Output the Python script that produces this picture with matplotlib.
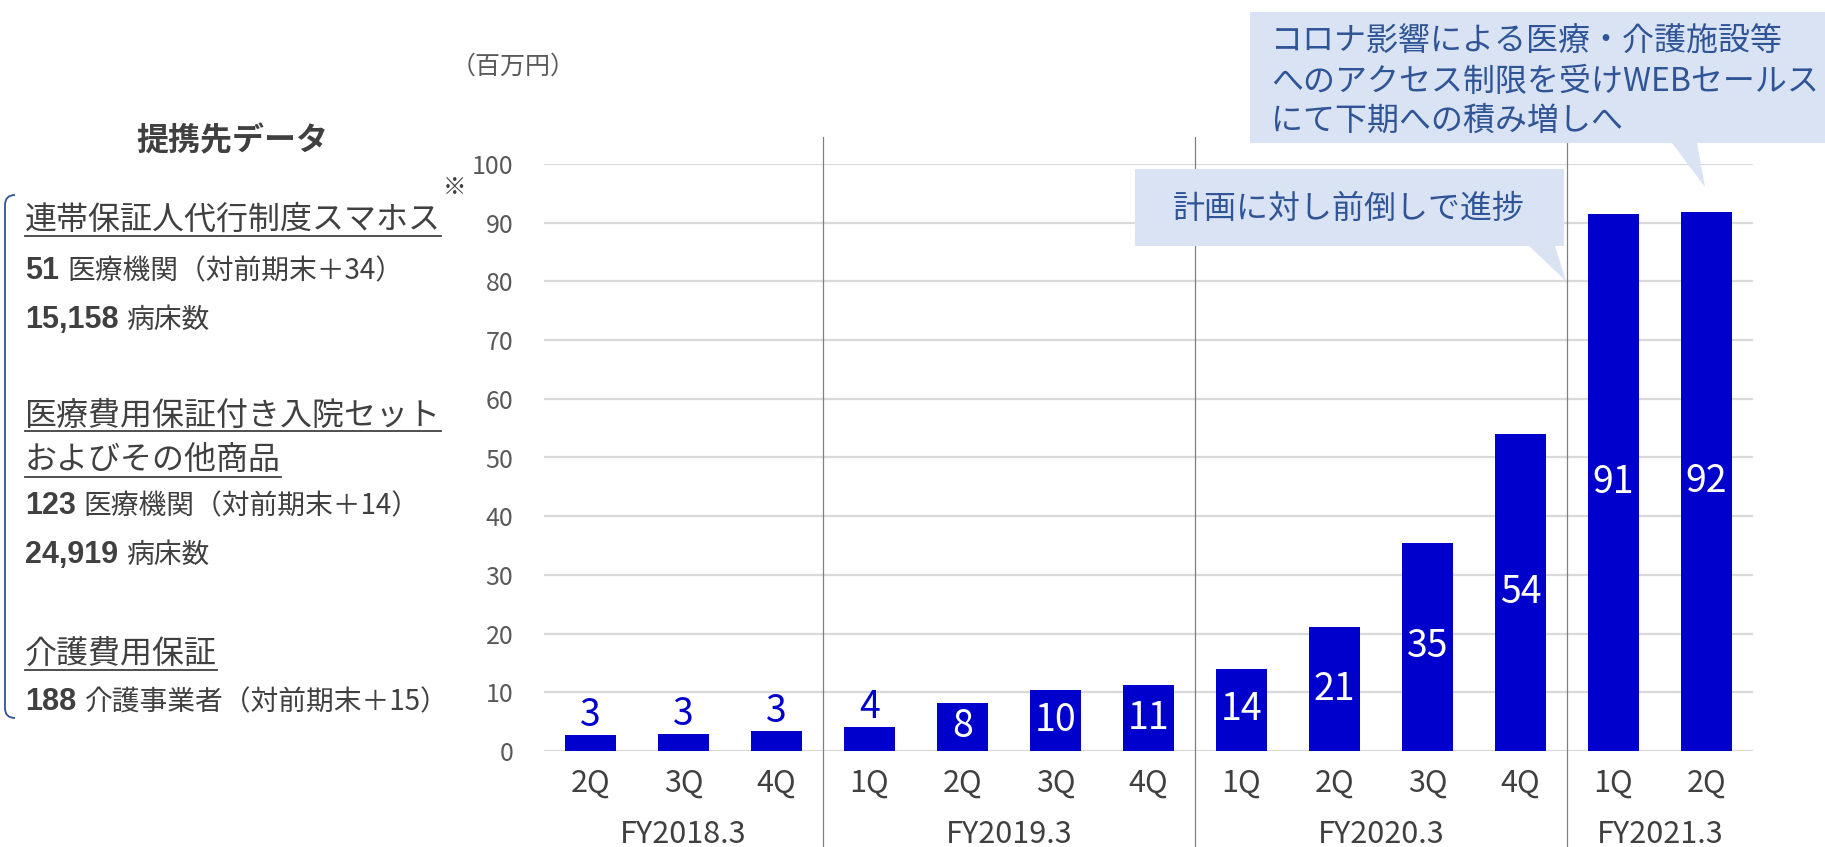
import matplotlib
matplotlib.use('Agg')
import matplotlib.pyplot as plt
from matplotlib.patches import Polygon, PathPatch
from matplotlib.path import Path

plt.rcParams['font.family'] = ['Noto Sans CJK JP', 'DejaVu Sans']

# ---------------- data ----------------
quarters = ['2Q', '3Q', '4Q', '1Q', '2Q', '3Q', '4Q', '1Q', '2Q', '3Q', '4Q', '1Q', '2Q']
values = [2.7, 2.95, 3.45, 4.1, 8.2, 10.4, 11.2, 14.0, 21.1, 35.5, 54.0, 91.5, 91.9]
value_labels = ['3', '3', '3', '4', '8', '10', '11', '14', '21', '35', '54', '91', '92']
fiscal_years = ['FY2018.3', 'FY2019.3', 'FY2020.3', 'FY2021.3']
fy_sizes = [3, 4, 4, 2]
yticks = [0, 10, 20, 30, 40, 50, 60, 70, 80, 90, 100]
unit_label = '（百万円）'

panel_title = '提携先データ'
headings = ['連帯保証人代行制度スマホス', '医療費用保証付き入院セット', 'およびその他商品', '介護費用保証']
stat_numbers = ['51', '15,158', '123', '24,919', '188']
stat_texts = ['医療機関（対前期末＋34）', '病床数', '医療機関（対前期末＋14）', '病床数',
              '介護事業者（対前期末＋15）']
callout1 = '計画に対し前倒しで進捗'
callout2 = ['コロナ影響による医療・介護施設等', 'へのアクセス制限を受けWEBセールス', 'にて下期への積み増しへ']

# ---------------- figure ----------------
W, H = 1825, 847
fig = plt.figure(figsize=(W / 100, H / 100), dpi=100)
y0_px, y100_px = 751, 164
x_left, x_right = 544, 1753
ax = fig.add_axes([x_left / W, (H - y0_px) / H, (x_right - x_left) / W, (y0_px - y100_px) / H])
ax_h = y0_px - y100_px

bar_color = '#0000CC'
x = list(range(len(values)))
ax.bar(x, values, width=0.54, color=bar_color, zorder=3)
ax.set_xlim(-0.5, len(values) - 0.5)
ax.set_ylim(0, 100)
ax.set_yticks(yticks)
ax.grid(axis='y', color='#D9D9D9', lw=1.6, zorder=0)
ax.set_axisbelow(True)
for s in ax.spines.values():
    s.set_visible(False)
ax.tick_params(axis='y', length=0, pad=22, labelsize=18, labelcolor='#595959')
ax.set_xticks([])

# value labels
for xi, v, lab in zip(x, values, value_labels):
    if v < 6:
        ax.annotate(lab, (xi, v), xytext=(0, 0), textcoords='offset points',
                    ha='center', va='bottom', fontsize=27, color=bar_color)
    else:
        ax.text(xi, v / 2, lab, ha='center', va='center', fontsize=27, color='white', zorder=4)

# quarter labels and fiscal-year labels
xt = ax.get_xaxis_transform()
for xi, q in zip(x, quarters):
    ax.text(xi, (y0_px - 783) / ax_h, q, transform=xt, ha='center', va='center',
            fontsize=22, color='#404040')
start = 0
for fy, n in zip(fiscal_years, fy_sizes):
    ax.text(start + n / 2 - 0.5, (y0_px - 834) / ax_h, fy, transform=xt, ha='center',
            va='center', fontsize=22, color='#404040')
    if start + n < len(values):
        ax.axvline(start + n - 0.5, ymin=(y0_px - H) / ax_h, ymax=(y0_px - 137) / ax_h,
                   color='#808080', lw=0.9, clip_on=False, zorder=2)
    start += n

# ---------------- overlay in pixel coordinates ----------------
ov = fig.add_axes([0, 0, 1, 1], zorder=10)
ov.set_xlim(0, W)
ov.set_ylim(H, 0)
ov.axis('off')
ov.patch.set_alpha(0)

text_col = '#404040'
ov.text(513, 67, unit_label, ha='center', va='center', fontsize=18, color='#595959')
ov.text(232, 141, panel_title, ha='center', va='center', fontsize=23, fontweight='bold',
        color=text_col)
ov.text(455, 187, '※', ha='center', va='center', fontsize=17, color=text_col)

fig.canvas.draw()
renderer = fig.canvas.get_renderer()
inv = ov.transData.inverted()


def right_edge(t):
    bb = t.get_window_extent(renderer)
    return inv.transform((bb.x1, bb.y0))[0]


heading_y = [220, 416, 460, 654]
underline_y = [236, 431, 477, 670]
for txt, yy, uy in zip(headings, heading_y, underline_y):
    t = ov.text(25, yy, txt, ha='left', va='center', fontsize=23, color=text_col)
    xe = right_edge(t)
    ov.plot([25, xe], [uy, uy], color=text_col, lw=1.3)

stat_y = [271, 320, 506, 555, 702]
for num, txt, yy in zip(stat_numbers, stat_texts, stat_y):
    t = ov.text(25, yy, num, ha='left', va='center', fontsize=22, fontweight='bold',
                family=['Liberation Sans', 'DejaVu Sans'], color=text_col)
    xe = right_edge(t)
    ov.text(xe + 8, yy, txt, ha='left', va='center', fontsize=20, color=text_col)

# bracket
verts = [(15, 195), (5, 195), (5, 205), (5, 708), (5, 718), (15, 718)]
codes = [Path.MOVETO, Path.CURVE3, Path.CURVE3, Path.LINETO, Path.CURVE3, Path.CURVE3]
ov.add_patch(PathPatch(Path(verts, codes), fill=False, edgecolor='#2F5597', lw=1.3))

# callouts
box_col = '#DAE3F3'
call_col = '#2F5597'
ov.add_patch(Polygon([(1135, 169), (1564, 169), (1564, 246), (1555, 246), (1566, 281),
                      (1529, 246), (1135, 246)], closed=True, facecolor=box_col,
                     edgecolor='none'))
ov.text(1349, 209, callout1, ha='center', va='center', fontsize=23, color=call_col)

ov.add_patch(Polygon([(1250, 12), (1825, 12), (1825, 143), (1697, 143), (1705, 187),
                      (1672, 143), (1250, 143)], closed=True, facecolor=box_col,
                     edgecolor='none'))
for line, yy in zip(callout2, [42, 82, 121]):
    ov.text(1271, yy, line, ha='left', va='center', fontsize=23, color=call_col)

fig.savefig('out.png', dpi=100, facecolor='white')
